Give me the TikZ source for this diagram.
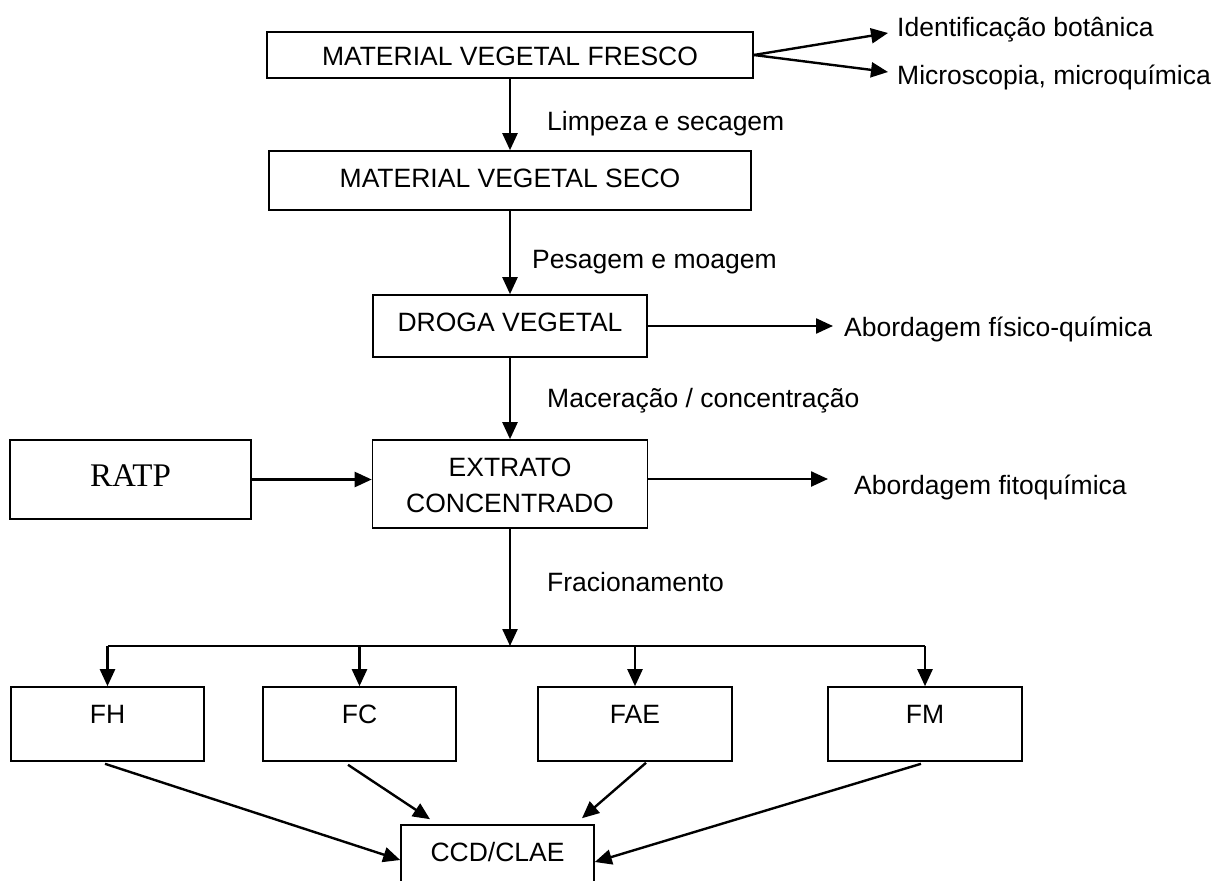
\documentclass[tikz,border=0pt]{standalone}
\usepackage{fontspec}
\setmainfont{Liberation Sans}
\newfontfamily\timesfont{Liberation Serif}
\usetikzlibrary{arrows.meta,calc}
\begin{document}
\begin{tikzpicture}[x=1pt,y=-1pt,
  font=\fontsize{26.5}{36}\selectfont,
  box/.style={draw, line width=1.6pt, inner sep=0pt, text height=36.5pt},
  lbl/.style={inner sep=0pt, anchor=base west},
  arr/.style={line width=2.4pt, -{Triangle[length=17pt,width=15pt]}},
  ln/.style={line width=2.4pt}]
\useasboundingbox (0,0) rectangle (1217,880);
\clip (0,0) rectangle (1217,880);
% boxes
\node[box, minimum width=486pt, minimum height=46pt, text height=33.5pt, text depth=12.5pt] (fresh) at (510,55) {MATERIAL VEGETAL FRESCO};
\node[box, minimum width=482pt, minimum height=59pt, text depth=22.5pt] (seco) at (510,180.5) {MATERIAL VEGETAL SECO};
\node[box, minimum width=274pt, minimum height=62pt, text depth=25.5pt] (droga) at (510,326) {DROGA VEGETAL};
\node[box, minimum width=241pt, minimum height=79pt, text height=46.5pt, text depth=32.5pt, font=\timesfont\fontsize{33}{38}\selectfont] (ratp) at (130.5,479.5) {RATP};
\node[box, minimum width=275pt, minimum height=88pt, text depth=51.5pt] (extr) at (510,484) {\begin{tabular}[t]{@{}c@{}}EXTRATO\\CONCENTRADO\end{tabular}};
\node[box, minimum width=193pt, minimum height=74pt, text depth=37.5pt] (FH) at (107.5,724) {FH};
\node[box, minimum width=193pt, minimum height=74pt, text depth=37.5pt] (FC) at (359.5,724) {FC};
\node[box, minimum width=194pt, minimum height=74pt, text depth=37.5pt] (FAE) at (635,724) {FAE};
\node[box, minimum width=194pt, minimum height=74pt, text depth=37.5pt] (FM) at (925,724) {FM};
\node[box, minimum width=193pt, minimum height=74pt, text depth=37.5pt] (CCD) at (497.5,862) {CCD/CLAE};
% labels
\node[lbl] (ident) at (897,36.5) {Identificação botânica};
\node[lbl] (micro) at (897,84.5) {Microscopia, microquímica};
\node[lbl] (limp) at (547,131) {Limpeza e secagem};
\node[lbl] (pesa) at (532,268.5) {Pesagem e moagem};
\node[lbl] (mace) at (547,407.5) {Maceração / concentração};
\node[lbl] (abfq) at (844,336.5) {Abordagem físico-química};
\node[lbl] (abfito) at (854,494.5) {Abordagem fitoquímica};
\node[lbl] (frac) at (547,591.5) {Fracionamento};
\coordinate (split) at (510,646);
% connectors
\draw[arr] (fresh.east) -- ($(ident.base west)+(-9,-3.5)$);
\draw[arr] (fresh.east) -- ($(micro.base west)+(-9,-12.5)$);
\draw[arr] (fresh) -- (seco);
\draw[arr] (seco) -- (droga);
\draw[arr] (droga) -- (extr);
\draw[arr, shorten >=11pt] (droga.east) -- (droga.east -| abfq.west);
\draw[arr] (ratp.east) -- (ratp.east -| extr.west);
\draw[arr, shorten >=26pt] ([yshift=5pt]extr.east) -- ([yshift=5pt]extr.east -| abfito.west);
\draw[arr] (extr.south) -- (split);
\draw[ln] (FH.north |- split) -- (FM.north |- split);
\foreach \n in {FH,FC,FAE,FM} \draw[arr] (\n.north |- split) -- (\n.north);
\draw[arr] ([xshift=-2.5pt,yshift=-2pt]FH.south) -- ([yshift=2pt]CCD.west);
\draw[arr] ([xshift=-11.5pt,yshift=-3pt]FC.south) -- ([xshift=-67.5pt,yshift=5pt]CCD.north);
\draw[arr] ([xshift=11pt,yshift=-1pt]FAE.south) -- ([xshift=84.5pt,yshift=6pt]CCD.north);
\draw[arr] ([xshift=-4pt,yshift=-2pt]FM.south) -- (CCD.east);
\end{tikzpicture}
\end{document}
